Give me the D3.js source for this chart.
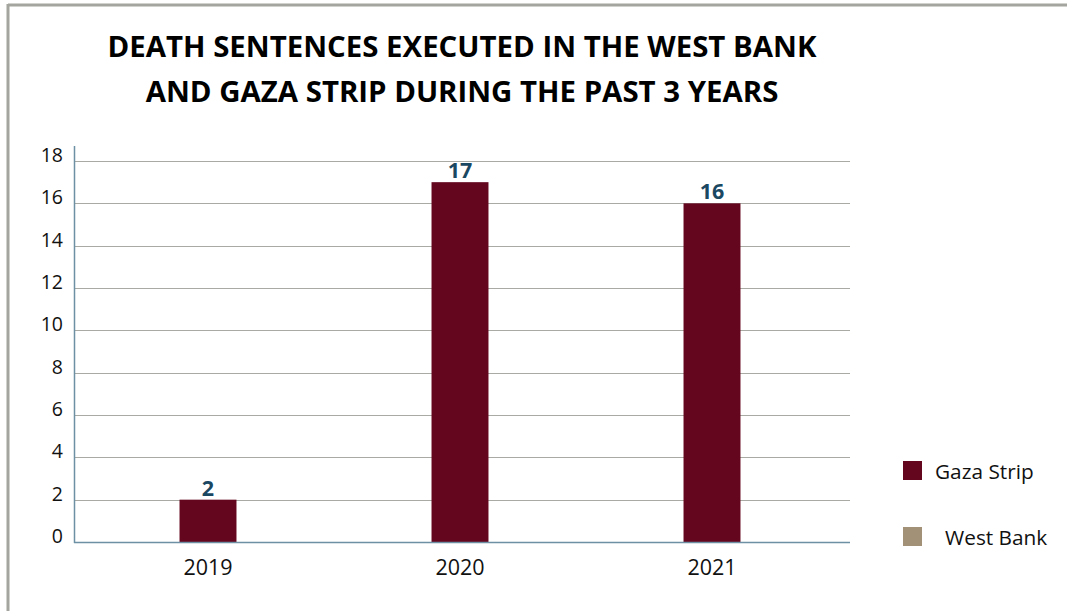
<!DOCTYPE html>
<html>
<head>
<meta charset="utf-8">
<script src="https://cdn.jsdelivr.net/npm/d3@7"></script>
<style>
  html, body { margin: 0; padding: 0; background: #fff; }
  svg { display: block; }
</style>
</head>
<body>
<script>
const titleLines = ["DEATH SENTENCES EXECUTED IN THE WEST BANK", "AND GAZA STRIP DURING THE PAST 3 YEARS"];
const years = ["2019", "2020", "2021"];
const gazaValues = [2, 17, 16];
const westBankValues = [0, 0, 0];
const seriesNames = ["Gaza Strip", "West Bank"];
const seriesColors = ["#63061e", "#a39177"];
const yTicks = [0, 2, 4, 6, 8, 10, 12, 14, 16, 18];

(function () {
const W = 1067, H = 611;
const svg = d3.select("body").append("svg").attr("width", W).attr("height", H);

// outer frame
svg.append("line").attr("x1", 8).attr("x2", W).attr("y1", 5).attr("y2", 5)
  .attr("stroke", "#a3a59e").attr("stroke-width", 3);
svg.append("line").attr("x1", 8).attr("x2", 8).attr("y1", 4).attr("y2", H)
  .attr("stroke", "#a3a59e").attr("stroke-width", 3);

// title
const title = svg.append("text").attr("text-anchor", "middle")
  .attr("font-family", "'Open Sans', sans-serif").attr("font-weight", 700)
  .attr("font-size", 29.4).attr("fill", "#000");
title.selectAll("tspan").data(titleLines).join("tspan")
  .attr("x", 462).attr("y", (d, i) => 57 + i * 45).text(d => d);

const pLeft = 75, pRight = 850, pTop = 161, pBottom = 542;
const y = d3.scaleLinear().domain([0, 18]).range([pBottom, pTop]);
const x = d3.scaleBand().domain(years).range([82, 838]).paddingInner(0.774).paddingOuter(0.387);

// gridlines
svg.append("g").selectAll("line").data(yTicks.filter(t => t > 0)).join("line")
  .attr("x1", pLeft).attr("x2", pRight)
  .attr("y1", d => Math.round(y(d)) + 0.5).attr("y2", d => Math.round(y(d)) + 0.5)
  .attr("stroke", "#a9aaa4").attr("stroke-width", 1);

// y axis
const yAxis = svg.append("g").attr("transform", `translate(${pLeft},0)`)
  .call(d3.axisLeft(y).tickValues(yTicks).tickSize(0).tickPadding(12));
yAxis.select(".domain").remove();
yAxis.selectAll("text").attr("font-family", "'Open Sans', sans-serif")
  .attr("font-size", 19.5).attr("fill", "#111").attr("dy", "0.02em");
svg.append("line").attr("x1", pLeft - 0.5).attr("x2", pLeft - 0.5).attr("y1", 146).attr("y2", pBottom + 1)
  .attr("stroke", "#6d90a4").attr("stroke-width", 1.5);

// bars
svg.append("g").selectAll("rect").data(years.map((yr, i) => ({ yr, v: gazaValues[i] }))).join("rect")
  .attr("x", d => x(d.yr)).attr("width", x.bandwidth())
  .attr("y", d => y(d.v)).attr("height", d => y(0) - y(d.v))
  .attr("fill", seriesColors[0]);

// x axis
const xAxis = svg.append("g").attr("transform", `translate(0,${pBottom})`)
  .call(d3.axisBottom(x).tickSize(0).tickPadding(17.5));
xAxis.select(".domain").remove();
xAxis.selectAll("text").attr("font-family", "'Open Sans', sans-serif")
  .attr("font-size", 21.5).attr("fill", "#111");
svg.append("line").attr("x1", pLeft - 1).attr("x2", pRight).attr("y1", pBottom + 0.5).attr("y2", pBottom + 0.5)
  .attr("stroke", "#6d90a4").attr("stroke-width", 1.5);

// value labels
svg.append("g").selectAll("text").data(years.map((yr, i) => ({ yr, v: gazaValues[i] }))).join("text")
  .attr("x", d => x(d.yr) + x.bandwidth() / 2).attr("y", d => y(d.v) - 4)
  .attr("text-anchor", "middle").attr("font-family", "'Open Sans', sans-serif")
  .attr("font-weight", 700).attr("font-size", 21.5).attr("fill", "#1a4862")
  .text(d => d.v);

// legend
const legend = svg.append("g");
const legendItems = [
  { name: seriesNames[0], color: seriesColors[0], sy: 461, tx: 935 },
  { name: seriesNames[1], color: seriesColors[1], sy: 527, tx: 945 }
];
legend.selectAll("rect").data(legendItems).join("rect")
  .attr("x", 903).attr("y", d => d.sy).attr("width", 19).attr("height", 19)
  .attr("fill", d => d.color);
legend.selectAll("text").data(legendItems).join("text")
  .attr("x", d => d.tx).attr("y", d => d.sy + 18)
  .attr("font-family", "'Open Sans', sans-serif").attr("font-size", 20.8).attr("fill", "#111")
  .text(d => d.name);
})();
</script>
</body>
</html>
